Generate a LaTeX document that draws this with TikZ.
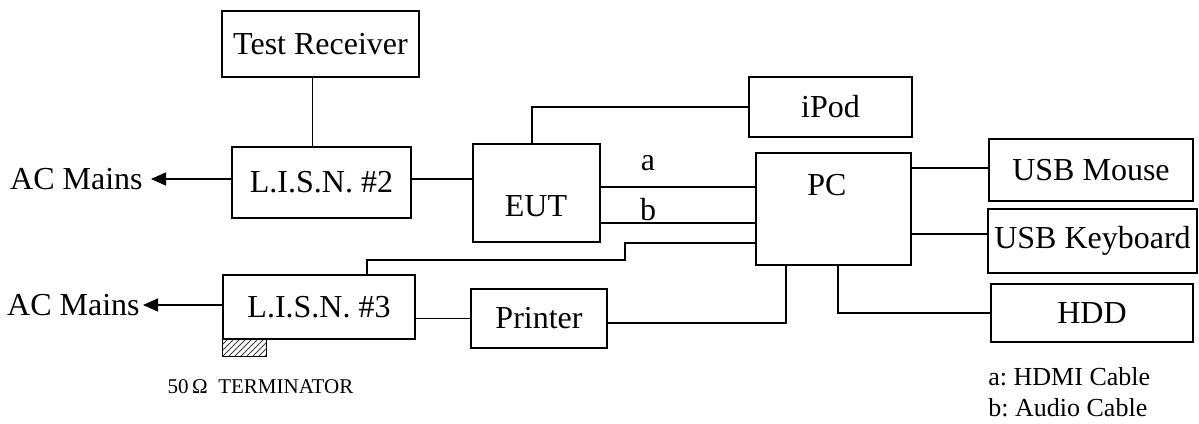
\documentclass[tikz,border=0pt]{standalone}
\usepackage{fontspec}
\setmainfont{Liberation Serif}
\usetikzlibrary{arrows.meta,patterns}
\frenchspacing
\tikzset{
  blk/.style 2 args={draw, line width=0.75pt, minimum width=#1*0.5pt, minimum height=#2*0.5pt, inner sep=0pt, font=\fontsize{16}{19}\selectfont},
  txt/.style={inner sep=0pt, font=\fontsize{16}{19}\selectfont},
  small/.style={inner sep=0pt, font=\fontsize{13}{15}\selectfont},
  wire/.style={line width=0.8pt},
  tip/.style={-{Triangle[length=7.5pt,width=6.5pt]}}
}
\begin{document}
\begin{tikzpicture}[x=0.5pt,y=-0.5pt]
\useasboundingbox (0,0) rectangle (1199,423);

% boxes
\node[blk={197}{66}] (rx) at (320.5,44) {Test Receiver};
\node[blk={179}{71}] (lisnA) at (321.5,182.5) {L.I.S.N. \#2};
\node[blk={192}{64}] (lisnB) at (319,307) {L.I.S.N. \#3};
\node[blk={127}{98}] (eut) at (536.5,193) {};
\node[txt] (eutlbl) at (536,206) {EUT};
\node[blk={163}{60}] (ipod) at (830.5,107) {iPod};
\node[blk={155}{112}] (pc) at (833.5,209) {};
\node[txt] (pclbl) at (827,185) {PC};
\node[blk={136}{59}] (prn) at (539,318.5) {Printer};
\node[blk={204}{62}] (mouse) at (1091,170) {USB Mouse};
\node[blk={209}{64}] (kbd) at (1092.5,241) {USB Keyboard};
\node[blk={202}{58}] (hdd) at (1092,313) {HDD};

% mains
\node[txt,anchor=east,inner xsep=4pt] (mainsA) at (151,179) {AC Mains};
\node[txt,anchor=east,inner xsep=1.5pt] (mainsB) at (143,305) {AC Mains};
\draw[wire,tip] (lisnA.west |- 0,179) -- (mainsA.east);
\draw[wire,tip] (lisnB.west |- 0,305) -- (mainsB.east);

% terminator
\draw[line width=0.5pt, pattern=north east lines, pattern color=darkgray] (lisnB.south west) rectangle ++(44,17);
\node[inner sep=0pt, font=\fontsize{10.5}{12}\selectfont] (term) at (260.5,387) {50\,Ω\ \ TERMINATOR};

% cables
\draw[wire] ([xshift=-4pt]rx.south) -- ([xshift=-4pt]rx.south |- lisnA.north);
\draw[wire] (lisnA.east |- 0,179) -- (eut.west |- 0,179);
\draw[wire] (eut.north -| 532,0) |- (ipod.west);
\draw[wire] (eut.east |- 0,187) -- (pc.west |- 0,187);
\draw[wire] (eut.east |- 0,223) -- (pc.west |- 0,223);
\node[txt] (la) at (648,163) {a};
\node[txt,anchor=base] (lb) at (648,220) {b};
\draw[wire] (lisnB.north -| 367,0) |- (625,260) |- (pc.west |- 0,243);
\draw[wire] (lisnB.east |- prn.west) -- (prn.west);
\draw[wire] (prn.east |- 0,323) -| (pc.south -| 786,0);
\foreach \n/\y in {mouse/168,kbd/234}{
\draw[wire] (pc.east |- 0,\y) -- (\n.west |- 0,\y);
}
\draw[wire] (pc.south -| 838,0) |- (hdd.west);

% legend
\node[small,anchor=west] (keya) at (988,377) {a: HDMI Cable};
\node[small,anchor=west] (keyb) at (988,408) {b: Audio Cable};

\end{tikzpicture}
\end{document}
